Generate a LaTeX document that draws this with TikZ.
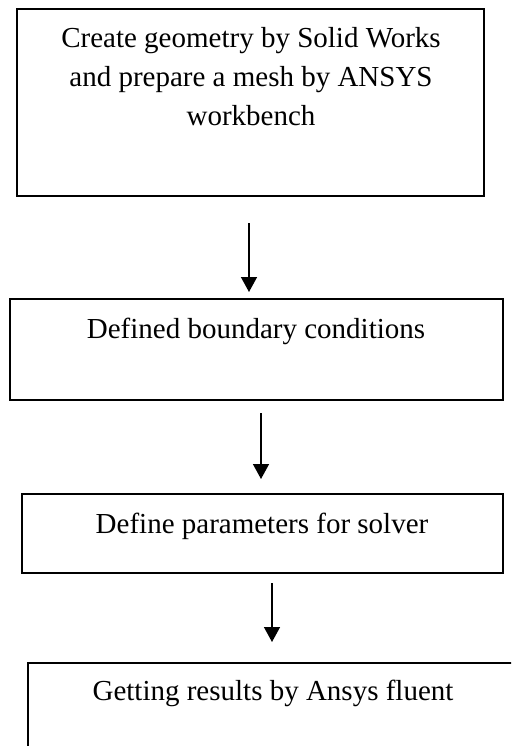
\documentclass[tikz,border=0pt]{standalone}
\usepackage{fontspec}
\setmainfont{Liberation Serif}
\usetikzlibrary{arrows.meta}
\begin{document}
\begin{tikzpicture}[x=1pt,y=-1pt,
  box/.style={draw=black,line width=1.4pt},
  lbl/.style={inner sep=0pt,font=\fontsize{29}{39}\selectfont,align=center},
  flow/.style={line width=1.5pt,-{Triangle[length=15pt,width=16pt]}}]
\useasboundingbox (0,0) rectangle (511,746);
\clip (0,0) rectangle (511,746);
% boxes
\draw[box] (17,9) rectangle (484,196);
\node[lbl,anchor=north] (t1) at (251,27) {Create geometry by Solid Works\\and prepare a mesh by ANSYS\\workbench};
\draw[box] (10,299) rectangle (503,400);
\node[lbl,anchor=base] (t2) at (256,338) {Defined boundary conditions};
\draw[box] (22,494) rectangle (503,573);
\node[lbl,anchor=base] (t3) at (262,533) {Define parameters for solver};
\draw[box] (28,663) rectangle (530,770);
\node[lbl,anchor=base] (t4) at (273,700) {Getting results by Ansys fluent};
% arrows
\coordinate (a1s) at (249,223); \coordinate (a1e) at (249,292);
\coordinate (a2s) at (261,413); \coordinate (a2e) at (261,479);
\coordinate (a3s) at (272,583); \coordinate (a3e) at (272,642);
\draw[flow] (a1s) -- (a1e);
\draw[flow] (a2s) -- (a2e);
\draw[flow] (a3s) -- (a3e);
\end{tikzpicture}
\end{document}
